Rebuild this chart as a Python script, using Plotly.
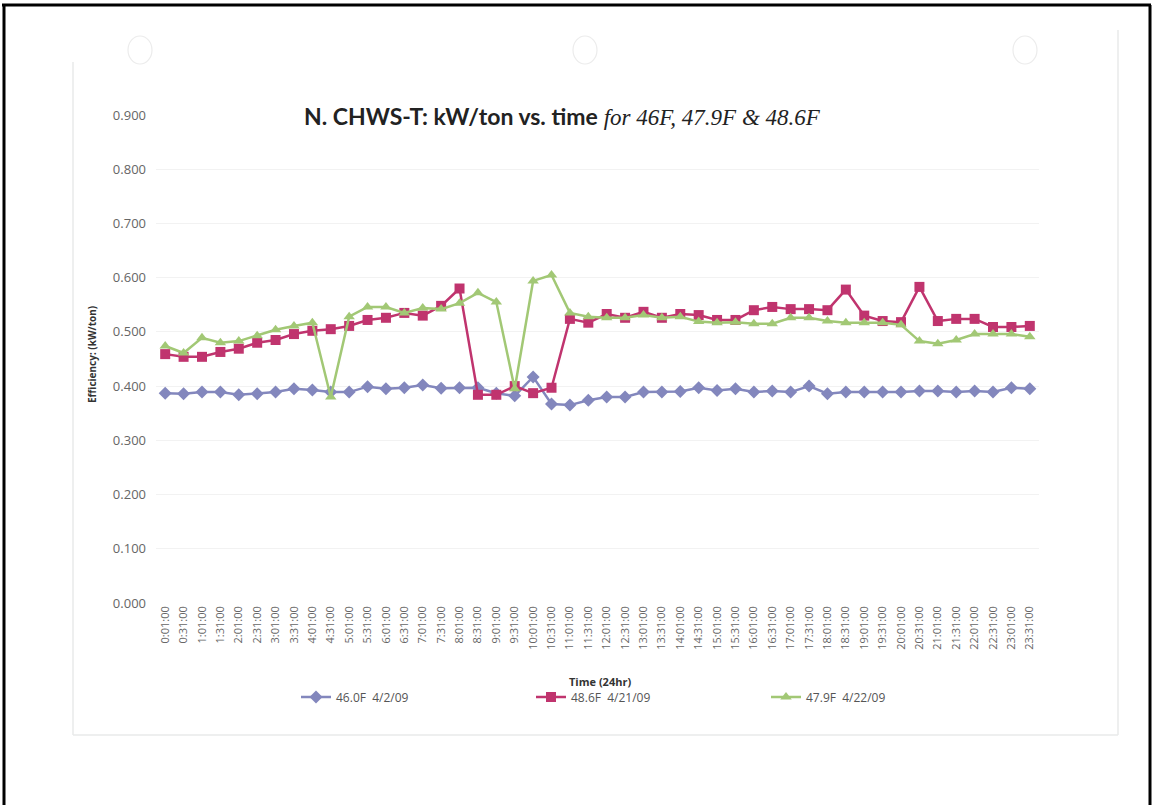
import plotly.graph_objects as go

# Half-hourly sample times across the day
times = [f"{h}:{m:02d}:00" for h in range(24) for m in (1, 31)]

# kW/ton readings for each test day
eff_46_0 = [0.387, 0.386, 0.389, 0.389, 0.384, 0.386, 0.389, 0.395, 0.393, 0.389,
            0.389, 0.399, 0.395, 0.397, 0.402, 0.396, 0.397, 0.397, 0.387, 0.382,
            0.417, 0.367, 0.365, 0.374, 0.380, 0.380, 0.389, 0.389, 0.390, 0.397,
            0.392, 0.395, 0.389, 0.391, 0.389, 0.400, 0.386, 0.389, 0.389, 0.389,
            0.389, 0.391, 0.391, 0.389, 0.391, 0.389, 0.397, 0.395]

eff_48_6 = [0.459, 0.454, 0.454, 0.463, 0.469, 0.480, 0.485, 0.496, 0.502, 0.505,
            0.511, 0.522, 0.526, 0.535, 0.530, 0.548, 0.580, 0.384, 0.384, 0.400,
            0.387, 0.397, 0.524, 0.517, 0.533, 0.526, 0.537, 0.526, 0.533, 0.531,
            0.522, 0.522, 0.540, 0.546, 0.542, 0.542, 0.540, 0.578, 0.530, 0.520,
            0.518, 0.583, 0.520, 0.524, 0.524, 0.509, 0.509, 0.511]

eff_47_9 = [0.474, 0.461, 0.489, 0.480, 0.483, 0.493, 0.504, 0.511, 0.517, 0.380,
            0.528, 0.546, 0.546, 0.535, 0.544, 0.542, 0.553, 0.572, 0.555, 0.395,
            0.594, 0.605, 0.535, 0.528, 0.526, 0.526, 0.531, 0.526, 0.528, 0.519,
            0.517, 0.518, 0.515, 0.515, 0.526, 0.526, 0.520, 0.517, 0.517, 0.517,
            0.513, 0.483, 0.478, 0.485, 0.496, 0.496, 0.496, 0.491]

series_names = ["46.0F  4/2/09", "48.6F  4/21/09", "47.9F  4/22/09"]
y_ticks = [0.0, 0.1, 0.2, 0.3, 0.4, 0.5, 0.6, 0.7, 0.8, 0.9]

W, H = 1153, 805
L, R, T, B = 156, 114, 115, 202
PW, PH = W - L - R, H - T - B


def px(x):
    return (x - L) / PW


def py(y):
    return (H - B - y) / PH


fig = go.Figure()
fig.add_trace(go.Scatter(
    x=times, y=eff_46_0, name=series_names[0], mode="lines+markers",
    line=dict(color="#8387bd", width=2.5),
    marker=dict(symbol="diamond", size=10, color="#8387bd"),
))
fig.add_trace(go.Scatter(
    x=times, y=eff_48_6, name=series_names[1], mode="lines+markers",
    line=dict(color="#c0346e", width=2.5),
    marker=dict(symbol="square", size=10, color="#c0346e"),
))
fig.add_trace(go.Scatter(
    x=times, y=eff_47_9, name=series_names[2], mode="lines+markers",
    line=dict(color="#a2c875", width=2.5),
    marker=dict(symbol="triangle-up", size=10, color="#a2c875"),
))

shapes = []
# outer black frame
frame = dict(type="line", xref="paper", yref="paper", line=dict(color="black", width=3))
shapes.append({**frame, "x0": px(2), "x1": px(1151), "y0": py(5), "y1": py(5)})
shapes.append({**frame, "x0": px(4), "x1": px(4), "y0": py(5), "y1": py(812)})
shapes.append({**frame, "x0": px(1150), "x1": px(1150), "y0": py(5), "y1": py(812)})
# faint page outline of the chart sheet
edge = dict(type="line", xref="paper", yref="paper", line=dict(color="#e8eaea", width=1.5))
shapes.append({**edge, "x0": px(73), "x1": px(73), "y0": py(62), "y1": py(735)})
shapes.append({**edge, "x0": px(73), "x1": px(1118), "y0": py(735), "y1": py(735)})
shapes.append({**edge, "x0": px(1118), "x1": px(1118), "y0": py(30), "y1": py(735)})
# binder holes
for cx in (140, 585, 1025):
    shapes.append(dict(type="circle", xref="paper", yref="paper",
                       x0=px(cx - 12), x1=px(cx + 12), y0=py(36), y1=py(64),
                       line=dict(color="#ececec", width=1.2)))

annotations = [
    dict(text="<b>N. CHWS-T: kW/ton vs. time</b> "
              "<i><span style='font-family:Liberation Serif'>for 46F, 47.9F &amp; 48.6F</span></i>",
         xref="paper", yref="paper", x=px(562), y=py(116), xanchor="center", yanchor="middle",
         showarrow=False, font=dict(family="Lato", size=23, color="#222222")),
    dict(text="<b>Efficiency: (kW/ton)</b>", textangle=-90,
         xref="paper", yref="paper", x=px(92), y=py(355), xanchor="center", yanchor="middle",
         showarrow=False, font=dict(family="Open Sans", size=10, color="#333333")),
    dict(text="<b>Time (24hr)</b>",
         xref="paper", yref="paper", x=px(600), y=py(681), xanchor="center", yanchor="middle",
         showarrow=False, font=dict(family="Open Sans", size=11, color="#333333")),
]

fig.update_layout(
    width=W, height=H,
    margin=dict(l=L, r=R, t=T, b=B, pad=0),
    paper_bgcolor="white", plot_bgcolor="white",
    showlegend=True,
    legend=dict(orientation="h", x=px(296), y=py(697), xanchor="left", yanchor="middle",
                font=dict(family="Open Sans", size=12, color="#555555"),
                entrywidth=190, itemwidth=30, bgcolor="rgba(0,0,0,0)"),
    shapes=shapes,
    annotations=annotations,
    xaxis=dict(type="category", categoryorder="array", categoryarray=times,
               range=[-0.5, len(times) - 0.5], tickangle=-90,
               showgrid=False, showline=False, ticks="", zeroline=False,
               tickfont=dict(family="Open Sans", size=11, color="#666666")),
    yaxis=dict(range=[0, 0.9], tickvals=y_ticks, tickformat=".3f",
               showgrid=True, gridcolor="#f2f2f2", gridwidth=1,
               showline=False, ticks="", zeroline=False, ticklabelstandoff=9,
               tickfont=dict(family="Open Sans", size=13, color="#666666")),
)

fig.write_html("out.html")
